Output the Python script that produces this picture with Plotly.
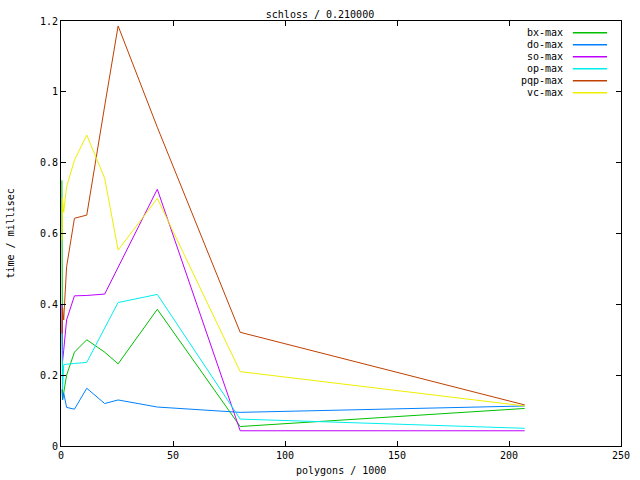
import plotly.graph_objects as go

x_polys = [0.4, 0.7, 1.2, 2.5, 6, 11.5, 19.5, 25.5, 43, 80, 207]

series_names = ["bx-max", "do-max", "so-max", "op-max", "pqp-max", "vc-max"]
bx_max = [0.75, 0.13, 0.15, 0.20, 0.265, 0.30, 0.265, 0.232, 0.386, 0.055, 0.106]
do_max = [0.16, 0.13, 0.15, 0.109, 0.104, 0.163, 0.12, 0.13, 0.11, 0.095, 0.113]
so_max = [0.40, 0.24, 0.27, 0.356, 0.424, 0.425, 0.429, 0.505, 0.725, 0.043, 0.043]
op_max = [0.318, 0.16, 0.229, 0.231, 0.233, 0.236, 0.333, 0.405, 0.428, 0.076, 0.050]
pqp_max = [0.318, 0.39, 0.356, 0.506, 0.643, 0.652, 0.96, 1.186, 0.90, 0.321, 0.116]
vc_max = [0.58, 0.70, 0.66, 0.732, 0.807, 0.878, 0.756, 0.553, 0.699, 0.210, 0.113]

series_values = [bx_max, do_max, so_max, op_max, pqp_max, vc_max]
colors = ["#00c000", "#0080ff", "#c000ff", "#00eeee", "#c04000", "#eeee00"]

x_ticks = [0, 50, 100, 150, 200, 250]
y_ticks = [0, 0.2, 0.4, 0.6, 0.8, 1.0, 1.2]
y_ticktext = ["0", "0.2", "0.4", "0.6", "0.8", "1", "1.2"]

FONT = "DejaVu Sans Mono"
FS = 10

fig = go.Figure()
for name, vals, col in zip(series_names, series_values, colors):
    fig.add_trace(go.Scatter(x=x_polys, y=vals, mode="lines", name=name,
                             line=dict(color=col, width=1), showlegend=False))

# custom gnuplot-style legend (text then line sample)
legend_y0 = 0.9725
legend_dy = 0.0283
for i, (name, col) in enumerate(zip(series_names, colors)):
    yy = legend_y0 - i * legend_dy
    fig.add_annotation(x=0.9, y=yy, xref="paper", yref="paper", text=name,
                       showarrow=False, xanchor="right", yanchor="middle",
                       font=dict(family=FONT, size=FS, color="black"))
    fig.add_shape(type="line", xref="paper", yref="paper", x0=0.914, x1=0.975,
                  y0=yy, y1=yy, line=dict(color=col, width=1.5))

# axis titles
fig.add_annotation(x=0.5, y=-32 / 425, xref="paper", yref="paper",
                   text="polygons / 1000", showarrow=False,
                   xanchor="center", yanchor="bottom",
                   font=dict(family=FONT, size=FS, color="black"))
fig.add_annotation(x=-51 / 560, y=0.5, xref="paper", yref="paper",
                   text="time / millisec", showarrow=False, textangle=-90,
                   xanchor="center", yanchor="middle",
                   font=dict(family=FONT, size=FS, color="black"))

axis_common = dict(showline=True, linecolor="black", linewidth=1, mirror="ticks",
                   ticks="inside", ticklen=5, tickcolor="black", showgrid=False,
                   zeroline=False, automargin=False,
                   tickfont=dict(family=FONT, size=FS, color="black"))

fig.update_layout(
    width=640, height=480,
    margin=dict(l=61, r=19, t=21, b=34),
    paper_bgcolor="white", plot_bgcolor="white",
    title=dict(text="schloss / 0.210000", x=0.5, xanchor="center",
               y=1 - 14 / 480, yanchor="middle", automargin=False,
               font=dict(family=FONT, size=FS, color="black")),
    xaxis=dict(range=[0, 250], tickvals=x_ticks, **axis_common),
    yaxis=dict(range=[0, 1.2], tickvals=y_ticks, ticktext=y_ticktext,
               **axis_common),
)

fig.write_html("out.html", config={"displayModeBar": False},
               post_script="document.body.style.margin='0';")
